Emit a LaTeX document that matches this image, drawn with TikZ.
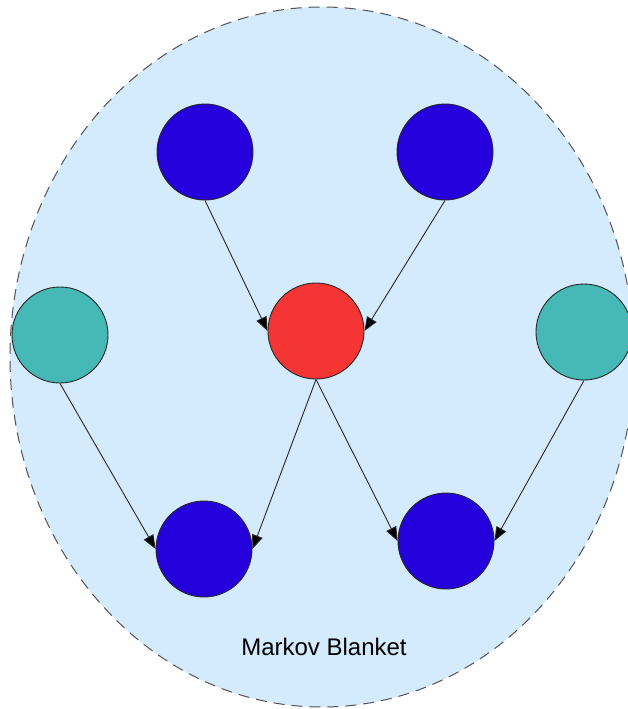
\documentclass[tikz,border=0pt]{standalone}
\usepackage{fontspec}
\setmainfont{Liberation Sans}
\usetikzlibrary{arrows.meta}
\definecolor{blanketfill}{RGB}{212,234,253}
\definecolor{nodeblue}{RGB}{36,0,220}
\definecolor{nodered}{RGB}{245,52,52}
\definecolor{nodeteal}{RGB}{70,184,181}
\definecolor{edgegray}{RGB}{40,40,40}
\tikzset{
  varnode/.style={circle, draw=edgegray, line width=0.9pt, minimum size=96pt, inner sep=0pt},
  bluenode/.style={varnode, fill=nodeblue},
  rednode/.style={varnode, fill=nodered},
  tealnode/.style={varnode, fill=nodeteal},
  edge/.style={draw=edgegray, line width=0.9pt, -{Triangle[length=14pt,width=11pt,fill=black]}},
  blanket/.style={draw=edgegray!80, line width=1pt, dash pattern=on 11pt off 7pt, fill=blanketfill}
}
\begin{document}
\begin{tikzpicture}[x=1pt,y=-1pt]
\clip (0,0) rectangle (628,709);
\fill[white] (0,0) rectangle (628,709);
\draw[blanket] (322,357) ellipse [x radius=312, y radius=350];
\node[bluenode] (tl) at (205,152) {};
\node[bluenode] (tr) at (445,152) {};
\node[rednode] (red) at (316,331) {};
\node[tealnode] (lt) at (60,335) {};
\node[tealnode] (rt) at (584,332) {};
\node[bluenode] (bl) at (204,549) {};
\node[bluenode] (br) at (446,541) {};
\node (label) at (324,647) {\fontsize{24pt}{28pt}\selectfont Markov Blanket};
\draw[edge] (tl.south) -- (red.west);
\draw[edge] (tr.south) -- (red.east);
\draw[edge] (lt.south) -- (bl.west);
\draw[edge] (red.south) -- (bl.east);
\draw[edge] (red.south) -- (br.west);
\draw[edge] (rt.south) -- (br.east);
\end{tikzpicture}
\end{document}
